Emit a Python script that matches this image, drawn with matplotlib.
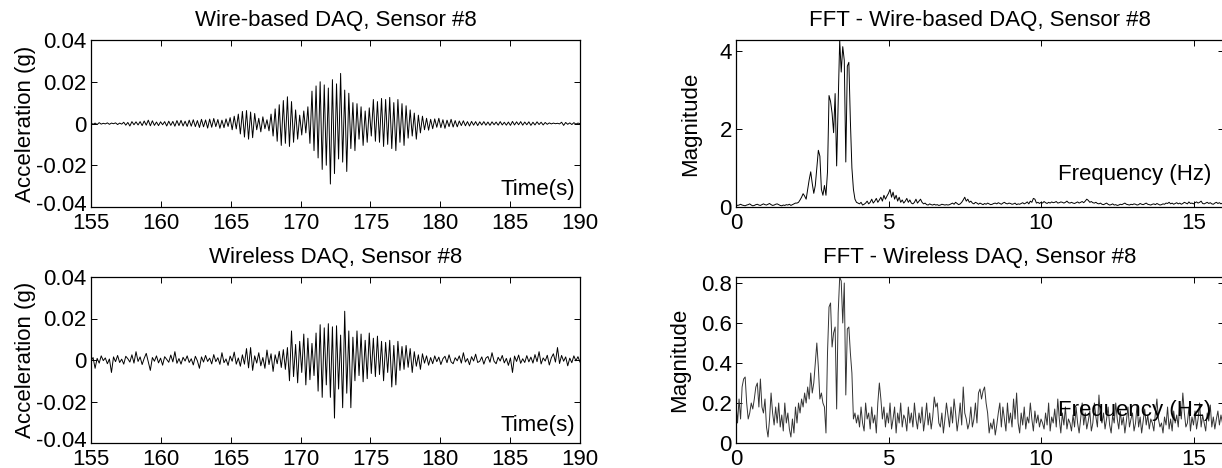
import numpy as np
import matplotlib
matplotlib.use('Agg')
import matplotlib.pyplot as plt
import matplotlib.transforms as mtransforms

plt.rcParams['font.family'] = ['Liberation Sans', 'DejaVu Sans']
plt.rcParams['font.size'] = 16

# acceleration records, mg, 155 s .. 190 s (24 samples per 3.5 s row)
wired_mg = [
    0.3, -0.4, 0.2, -0.5, 0.4, -0.3, 0.1, -0.2, 0.3, -0.4, 0.2, -0.1, 0.3, -0.5, 0.2, -0.3, 0.6, -0.8, 0.5, -1.2, 0.9, -0.6, 0.8, -0.7,
    0.9, -1.0, 1.2, -0.8, 1.6, -1.1, 1.3, -0.9, 0.7, -1.0, 0.8, -0.6, 0.9, -1.2, 1.1, -0.9, 1.0, -1.3, 1.4, -1.0, 1.5, -1.2, 1.1, -1.4,
    1.6, -1.3, 1.8, -1.5, 1.4, -1.9, 2.0, -1.6, 1.7, -2.2, 2.1, -1.8, 2.4, -1.5, 1.9, -2.3, 1.6, -2.0, 2.2, -1.4, 2.8, -3.0, 3.5, -2.6,
    4.5, -5.0, 5.8, -6.5, 6.2, -7.5, 5.5, -6.8, 4.8, -3.0, 2.5, -4.0, 3.2, -2.5, 1.8, -3.5, 4.5, -6.0, 7.0, -8.5, 9.0, -10.5, 11.0, -9.5,
    12.8, -11.0, 10.5, -9.0, 6.5, -7.5, 4.0, -5.5, 6.0, -4.5, 8.0, -9.5, 15.5, -13.0, 18.0, -16.5, 20.0, -22.0, 18.5, -20.0, 17.0, -29.0, 21.0, -24.0,
    19.0, -17.0, 24.0, -18.5, 16.0, -23.0, 14.5, -12.0, 10.0, -13.0, 9.5, -7.5, 8.0, -10.5, 6.0, -9.0, 7.5, -6.0, 11.5, -8.5, 10.5, -9.0, 12.0, -11.0,
    11.5, -10.0, 12.5, -12.0, 10.0, -13.0, 11.5, -9.0, 9.5, -10.5, 8.5, -7.0, 6.5, -6.0, 5.0, -7.5, 4.0, -4.5, 3.5, -3.0, 2.5, -3.2, 2.0, -2.5,
    2.2, -1.8, 2.5, -2.0, 1.8, -2.3, 1.6, -1.5, 2.0, -1.7, 1.4, -1.6, 1.2, -1.0, 1.3, -1.1, 0.9, -1.2, 1.0, -0.8, 0.9, -1.0, 0.8, -0.7,
    0.9, -0.8, 0.7, -0.9, 0.8, -0.6, 0.7, -0.8, 0.9, -0.7, 0.6, -0.8, 0.7, -0.9, 1.0, -0.7, 0.8, -0.6, 0.9, -0.8, 0.7, -0.6, 0.8, -0.9,
    0.6, -0.7, 0.8, -0.5, 0.6, -0.7, 0.5, -0.4, 0.3, -0.2, 0.2, -0.1, 0.1, -0.2, 0.6, -0.9, 0.5, -0.4, 0.3, -0.5, 0.4, -0.3, 0.2, -0.1,
]
wireless_mg = [
    -0.5, 1.2, -4.0, 0.8, -1.5, 2.0, -0.3, 1.0, -1.8, 0.5, -6.0, 1.5, -0.8, 2.2, -1.2, 0.4, -2.0, 1.8, 0.6, -1.0, 2.5, -1.5, 4.0, -0.7,
    1.5, -2.2, 0.8, 3.2, -1.0, -5.0, 1.2, -0.6, 2.0, -1.4, 0.9, -2.5, 1.6, 0.3, -1.1, 2.4, -0.9, 4.0, -1.6, 0.7, -2.0, 1.3, -0.5, 2.0,
    -1.2, 0.6, -2.4, 1.8, -0.4, -4.0, 1.5, -1.0, 2.2, -0.7, 0.9, -1.9, 2.6, -0.8, 1.1, -2.1, 3.5, -1.3, 0.5, -2.6, 1.9, -0.6, 3.8, -2.0,
    1.0, -3.0, 2.5, -2.0, 5.5, -3.8, 6.0, -5.0, 2.0, -1.5, 3.5, -2.8, 1.2, -4.0, 4.8, -2.2, 3.0, -5.5, 2.5, -1.8, 4.2, -3.6, 5.0, -4.5,
    6.0, -10.0, 14.0, -8.0, 7.5, -11.0, 9.0, -6.0, 12.5, -12.0, 10.5, -9.5, 8.0, -7.5, 13.0, -15.0, 17.0, -18.0, 15.5, -12.0, 17.5, -18.0, 16.0, -28.0,
    16.5, -14.0, 12.0, -23.0, 23.5, -16.0, 14.0, -23.0, 11.0, -10.0, 14.0, -7.5, 12.5, -10.5, 9.5, -9.0, 13.0, -6.5, 10.5, -8.0, 11.5, -7.0, 9.0, -10.0,
    8.5, -6.0, 9.5, -13.0, 7.0, -12.0, 9.0, -5.0, 6.5, -4.5, 7.0, -3.5, 5.5, -6.0, 4.0, -3.0, 2.5, -4.5, 3.0, -1.5, 2.0, -2.5, 1.2, -1.8,
    2.0, -0.8, 1.4, -2.2, 0.6, 1.8, -1.3, 2.5, -0.9, -1.8, 1.1, -0.4, 2.0, -1.5, 3.5, -1.0, 0.7, -2.3, 1.6, -0.5, 2.8, -1.2, -0.6, 1.5,
    -2.0, 0.9, 1.7, -1.1, 3.5, -0.6, -1.8, 1.3, -0.5, 2.2, -1.4, 0.8, -2.6, 1.0, -6.0, 1.9, -0.7, 2.4, -1.6, 0.6, -1.2, 2.1, -0.9, 1.4,
    -1.5, 2.6, -0.8, 4.0, -1.9, 1.0, -0.5, 2.3, -2.4, 1.1, 3.0, -1.0, 6.0, -1.7, 2.2, -0.6, 1.5, -2.8, 0.9, -1.3, 2.0, -0.4, 1.6, -1.0,
]
t_start, t_end = 155, 190

# FFT magnitudes, 0 .. 16 Hz in 0.05 Hz bins (20 per row = 1 Hz)
fft_wired = [
    0.06, 0.04, 0.05, 0.07, 0.05, 0.04, 0.03, 0.05, 0.06, 0.08, 0.05, 0.03, 0.04, 0.06, 0.07, 0.05, 0.04, 0.06, 0.08, 0.06,
    0.05, 0.07, 0.09, 0.06, 0.04, 0.05, 0.07, 0.08, 0.06, 0.04, 0.03, 0.05, 0.04, 0.06, 0.05, 0.07, 0.04, 0.06, 0.08, 0.10,
    0.10, 0.12, 0.18, 0.25, 0.34, 0.28, 0.20, 0.45, 0.70, 0.90, 0.60, 0.35, 0.55, 1.00, 1.45, 1.30, 0.45, 0.30, 0.55, 0.30,
    0.90, 2.85, 2.70, 2.40, 1.90, 2.90, 1.05, 2.70, 4.27, 3.45, 4.10, 3.75, 1.15, 3.60, 3.70, 2.20, 1.00, 0.45, 0.20, 0.12,
    0.10, 0.08, 0.12, 0.05, 0.07, 0.10, 0.15, 0.08, 0.12, 0.20, 0.10, 0.15, 0.22, 0.12, 0.18, 0.25, 0.15, 0.30, 0.20, 0.28,
    0.35, 0.45, 0.25, 0.38, 0.20, 0.30, 0.15, 0.25, 0.12, 0.18, 0.10, 0.15, 0.22, 0.12, 0.18, 0.10, 0.08, 0.12, 0.20, 0.10,
    0.15, 0.20, 0.12, 0.08, 0.10, 0.06, 0.05, 0.08, 0.06, 0.05, 0.07, 0.05, 0.06, 0.04, 0.05, 0.07, 0.06, 0.05, 0.06, 0.05,
    0.06, 0.08, 0.10, 0.07, 0.12, 0.09, 0.06, 0.08, 0.12, 0.18, 0.25, 0.15, 0.20, 0.12, 0.15, 0.10, 0.08, 0.12, 0.10, 0.07,
    0.10, 0.08, 0.06, 0.09, 0.07, 0.10, 0.08, 0.06, 0.07, 0.09, 0.10, 0.08, 0.11, 0.09, 0.07, 0.10, 0.12, 0.09, 0.08, 0.10,
    0.09, 0.07, 0.08, 0.10, 0.06, 0.08, 0.07, 0.09, 0.11, 0.08, 0.10, 0.13, 0.08, 0.15, 0.12, 0.22, 0.20, 0.10, 0.12, 0.09,
    0.12, 0.10, 0.14, 0.11, 0.09, 0.12, 0.10, 0.13, 0.11, 0.12, 0.14, 0.10, 0.11, 0.13, 0.12, 0.10, 0.12, 0.15, 0.11, 0.10,
    0.12, 0.10, 0.09, 0.11, 0.13, 0.10, 0.12, 0.14, 0.11, 0.15, 0.20, 0.17, 0.12, 0.14, 0.11, 0.10, 0.12, 0.09, 0.08, 0.10,
    0.07, 0.06, 0.08, 0.10, 0.07, 0.05, 0.06, 0.08, 0.05, 0.06, 0.04, 0.05, 0.07, 0.06, 0.08, 0.10, 0.07, 0.06, 0.05, 0.07,
    0.06, 0.08, 0.07, 0.05, 0.06, 0.09, 0.07, 0.06, 0.08, 0.10, 0.07, 0.06, 0.05, 0.07, 0.08, 0.06, 0.09, 0.07, 0.05, 0.06,
    0.08, 0.07, 0.10, 0.09, 0.12, 0.08, 0.10, 0.07, 0.09, 0.11, 0.08, 0.10, 0.07, 0.09, 0.12, 0.10, 0.08, 0.13, 0.09, 0.10,
    0.08, 0.11, 0.13, 0.10, 0.12, 0.15, 0.09, 0.08, 0.10, 0.12, 0.09, 0.11, 0.08, 0.07, 0.10, 0.12, 0.09, 0.11, 0.08, 0.10,
    0.09,
]
fft_wireless = [
    0.20, 0.10, 0.22, 0.12, 0.28, 0.32, 0.33, 0.20, 0.12, 0.15, 0.20, 0.17, 0.22, 0.28, 0.30, 0.18, 0.32, 0.18, 0.15, 0.22,
    0.08, 0.03, 0.12, 0.25, 0.15, 0.09, 0.18, 0.10, 0.20, 0.08, 0.14, 0.06, 0.20, 0.10, 0.15, 0.07, 0.03, 0.12, 0.05, 0.18,
    0.10, 0.20, 0.15, 0.22, 0.18, 0.25, 0.20, 0.28, 0.22, 0.35, 0.25, 0.30, 0.40, 0.50, 0.38, 0.22, 0.25, 0.20, 0.18, 0.05,
    0.45, 0.68, 0.70, 0.48, 0.55, 0.58, 0.17, 0.65, 0.83, 0.81, 0.60, 0.80, 0.24, 0.57, 0.58, 0.45, 0.35, 0.12, 0.15, 0.10,
    0.14, 0.08, 0.18, 0.10, 0.06, 0.20, 0.12, 0.15, 0.07, 0.18, 0.10, 0.14, 0.05, 0.20, 0.30, 0.22, 0.12, 0.18, 0.08, 0.15,
    0.10, 0.20, 0.07, 0.12, 0.18, 0.05, 0.15, 0.10, 0.20, 0.08, 0.14, 0.12, 0.06, 0.18, 0.10, 0.15, 0.08, 0.20, 0.12, 0.07,
    0.15, 0.10, 0.18, 0.06, 0.12, 0.20, 0.09, 0.15, 0.07, 0.13, 0.23, 0.18, 0.20, 0.10, 0.08, 0.15, 0.05, 0.12, 0.20, 0.14,
    0.08, 0.18, 0.10, 0.22, 0.15, 0.06, 0.12, 0.20, 0.09, 0.28, 0.15, 0.12, 0.07, 0.10, 0.18, 0.08, 0.12, 0.20, 0.10, 0.25,
    0.27, 0.22, 0.26, 0.28, 0.20, 0.15, 0.05, 0.10, 0.07, 0.12, 0.04, 0.09, 0.15, 0.20, 0.08, 0.18, 0.12, 0.06, 0.20, 0.10,
    0.15, 0.08, 0.22, 0.12, 0.25, 0.10, 0.05, 0.15, 0.09, 0.18, 0.07, 0.13, 0.10, 0.20, 0.12, 0.06, 0.16, 0.10, 0.14, 0.08,
    0.12, 0.10, 0.07, 0.15, 0.09, 0.20, 0.06, 0.13, 0.10, 0.17, 0.08, 0.22, 0.12, 0.05, 0.15, 0.09, 0.18, 0.07, 0.12, 0.10,
    0.06, 0.14, 0.08, 0.18, 0.10, 0.05, 0.12, 0.20, 0.09, 0.15, 0.07, 0.11, 0.16, 0.06, 0.10, 0.20, 0.13, 0.08, 0.24, 0.12,
    0.10, 0.15, 0.07, 0.12, 0.18, 0.09, 0.05, 0.14, 0.10, 0.20, 0.12, 0.07, 0.16, 0.09, 0.13, 0.05, 0.11, 0.18, 0.08, 0.12,
    0.15, 0.06, 0.10, 0.19, 0.08, 0.13, 0.05, 0.11, 0.17, 0.09, 0.14, 0.07, 0.12, 0.10, 0.06, 0.15, 0.22, 0.12, 0.08, 0.10,
    0.05, 0.13, 0.09, 0.18, 0.07, 0.12, 0.06, 0.16, 0.10, 0.14, 0.08, 0.20, 0.12, 0.25, 0.15, 0.08, 0.10, 0.18, 0.06, 0.13,
    0.09, 0.16, 0.07, 0.12, 0.20, 0.08, 0.14, 0.10, 0.06, 0.15, 0.11, 0.19, 0.08, 0.13, 0.07, 0.12, 0.16, 0.09, 0.14, 0.10,
    0.12,
]
df = 0.05

t_wired = np.linspace(t_start, t_end, len(wired_mg))
t_wireless = np.linspace(t_start, t_end, len(wireless_mg))
f_wired = np.arange(len(fft_wired)) * df
f_wireless = np.arange(len(fft_wireless)) * df

fig = plt.figure(figsize=(12.22, 4.68), dpi=100)
W, H = 1222.0, 468.0

def make_axes(x0, x1, y0, y1):
    return fig.add_axes([x0 / W, 1 - y1 / H, (x1 - x0) / W, (y1 - y0) / H])

ax1 = make_axes(91, 580, 40, 207)
ax2 = make_axes(91, 580, 277, 443)
ax3 = make_axes(736, 1224, 40, 207)
ax4 = make_axes(736, 1224, 277, 443)

FS = 16

def matlab_style(ax):
    ax.tick_params(direction='in', top=True, right=True, length=4, width=0.7,
                   labelsize=FS)
    ax.tick_params(axis='x', pad=4)
    ax.tick_params(axis='y', pad=3)
    for s in ax.spines.values():
        s.set_linewidth(0.9)

# nudge the lowest y label up a little so it clears the first x label
lift = mtransforms.ScaledTranslation(0, 3 / 72.0, fig.dpi_scale_trans)

for ax, t, y, title in [(ax1, t_wired, wired_mg, 'Wire-based DAQ, Sensor #8'),
                        (ax2, t_wireless, wireless_mg, 'Wireless DAQ, Sensor #8')]:
    ax.plot(t, np.array(y) / 1000.0, color='black', linewidth=0.7)
    ax.set_xlim(155, 190)
    ax.set_ylim(-0.04, 0.04)
    ax.set_xticks([155, 160, 165, 170, 175, 180, 185, 190])
    ax.set_yticks([-0.04, -0.02, 0, 0.02, 0.04])
    ax.set_yticklabels(['-0.04', '-0.02', '0', '0.02', '0.04'])
    ax.set_ylabel('Acceleration (g)', fontsize=FS, labelpad=0)
    ax.set_title(title, fontsize=FS, pad=10)
    ax.text(0.99, 0.04, 'Time(s)', transform=ax.transAxes, ha='right', va='bottom', fontsize=FS)
    matlab_style(ax)
    lab = ax.get_yticklabels()[0]
    lab.set_transform(lab.get_transform() + lift)

ax3.plot(f_wired, fft_wired, color='black', linewidth=0.7)
ax3.set_ylim(0, max(fft_wired))
ax3.set_yticks([0, 2, 4])
ax3.set_title('FFT - Wire-based DAQ, Sensor #8', fontsize=FS, pad=10)
ax3.set_ylabel('Magnitude', fontsize=FS, labelpad=13)

ax4.plot(f_wireless, fft_wireless, color='#333333', linewidth=0.7)
ax4.set_ylim(0, max(fft_wireless))
ax4.set_yticks([0, 0.2, 0.4, 0.6, 0.8])
ax4.set_yticklabels(['0', '0.2', '0.4', '0.6', '0.8'])
ax4.set_title('FFT - Wireless DAQ, Sensor #8', fontsize=FS, pad=10)
ax4.set_ylabel('Magnitude', fontsize=FS, labelpad=8)

for ax in (ax3, ax4):
    ax.set_xlim(0, 16)
    ax.set_xticks([0, 5, 10, 15])
    ax.text(0.975, 0.13, 'Frequency (Hz)', transform=ax.transAxes, ha='right', va='bottom', fontsize=FS)
    matlab_style(ax)

fig.savefig('out.png', dpi=100)
